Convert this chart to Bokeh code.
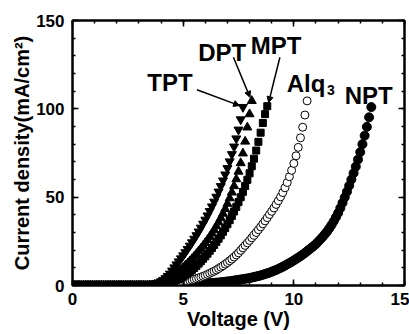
from bokeh.plotting import figure
from bokeh.models import LinearAxis, Range1d, FixedTicker, Label, Arrow, NormalHead
from bokeh.embed import file_html
from bokeh.resources import INLINE

# Voltage grid step (V); each current list starts at 0.0 V
V_STEP = 0.1

# Current density (mA/cm^2), one row per volt
tpt_j = [
    0, 0, 0, 0, 0, 0, 0, 0, 0, 0,
    0, 0, 0, 0, 0, 0, 0, 0, 0, 0,
    0, 0, 0, 0, 0, 0, 0, 0, 0, 0,
    0, 0, 0, 0, 0, 0.2, 0.4, 0.7, 1.1, 1.6,
    2.3, 3.1, 4.1, 5.3, 6.7, 8.4, 10.2, 11.9, 13.6, 15.3,
    17.0, 18.8, 20.6, 22.5, 24.4, 26.4, 28.4, 30.5, 32.7, 34.9,
    37.2, 39.6, 42.1, 44.7, 47.4, 50.2, 53.1, 56.2, 59.4, 62.8,
    66.4, 70.2, 74.3, 78.6, 83.2, 88.2, 94.0, 101.0,
]
dpt_j = [
    0, 0, 0, 0, 0, 0, 0, 0, 0, 0,
    0, 0, 0, 0, 0, 0, 0, 0, 0, 0,
    0, 0, 0, 0, 0, 0, 0, 0, 0, 0,
    0, 0, 0, 0, 0, 0.1, 0.2, 0.4, 0.6, 0.9,
    1.3, 1.8, 2.4, 3.1, 3.9, 4.8, 5.8, 6.8, 7.9, 9.0,
    10.1, 11.3, 12.5, 13.8, 15.1, 16.5, 17.9, 19.4, 20.9, 22.5,
    24.1, 25.8, 27.6, 29.5, 31.5, 33.6, 35.8, 38.2, 40.7, 43.4,
    46.3, 49.4, 52.7, 56.3, 60.2, 64.5, 69.3, 74.8, 81.5, 89.5,
    97.0, 104.5,
]
mpt_j = [
    0, 0, 0, 0, 0, 0, 0, 0, 0, 0,
    0, 0, 0, 0, 0, 0, 0, 0, 0, 0,
    0, 0, 0, 0, 0, 0, 0, 0, 0, 0,
    0, 0, 0, 0, 0, 0, 0, 0.1, 0.2, 0.3,
    0.5, 0.7, 1.0, 1.3, 1.7, 2.1, 2.6, 3.1, 3.7, 4.3,
    5.0, 5.8, 6.7, 7.7, 8.8, 9.9, 11.1, 12.4, 13.7, 15.1,
    16.5, 18.0, 19.6, 21.2, 22.9, 24.7, 26.5, 28.4, 30.4, 32.5,
    34.7, 37.0, 39.4, 41.9, 44.5, 47.2, 50.0, 53.0, 56.3, 59.8,
    63.5, 67.5, 71.8, 76.4, 81.3, 86.5, 92.0, 97.0, 101.5,
]
alq3_j = [
    0, 0, 0, 0, 0, 0, 0, 0, 0, 0,
    0, 0, 0, 0, 0, 0, 0, 0, 0, 0,
    0, 0, 0, 0, 0, 0, 0, 0, 0, 0,
    0, 0, 0, 0, 0, 0, 0, 0, 0, 0,
    0.2, 0.3, 0.4, 0.5, 0.6, 0.8, 1.0, 1.2, 1.4, 1.6,
    1.9, 2.2, 2.5, 2.8, 3.1, 3.5, 3.9, 4.3, 4.7, 5.2,
    5.7, 6.3, 6.9, 7.5, 8.1, 8.8, 9.6, 10.4, 11.2, 12.1,
    13.0, 14.0, 15.0, 16.1, 17.3, 18.5, 19.9, 21.3, 22.7, 24.1,
    25.5, 27.0, 28.5, 30.0, 31.6, 33.2, 34.9, 36.6, 38.4, 40.2,
    42.0, 43.9, 45.9, 48.0, 50.2, 52.6, 55.3, 58.3, 61.6, 65.2,
    69.1, 73.4, 78.2, 83.6, 89.6, 96.5, 104.5,
]
npt_j = [
    0, 0, 0, 0, 0, 0, 0, 0, 0, 0,
    0, 0, 0, 0, 0, 0, 0, 0, 0, 0,
    0, 0, 0, 0, 0, 0, 0, 0, 0, 0,
    0, 0, 0, 0, 0, 0, 0, 0, 0, 0,
    0, 0, 0, 0, 0, 0.1, 0.1, 0.1, 0.2, 0.2,
    0.3, 0.3, 0.4, 0.5, 0.5, 0.6, 0.7, 0.8, 0.9, 1.0,
    1.1, 1.2, 1.3, 1.4, 1.5, 1.6, 1.7, 1.8, 2.0, 2.1,
    2.3, 2.4, 2.6, 2.8, 3.0, 3.2, 3.4, 3.6, 3.8, 4.0,
    4.2, 4.5, 4.8, 5.1, 5.4, 5.7, 6.1, 6.5, 6.9, 7.3,
    7.8, 8.3, 8.8, 9.4, 10.0, 10.6, 11.3, 12.0, 12.7, 13.4,
    14.2, 15.0, 15.8, 16.6, 17.5, 18.4, 19.4, 20.4, 21.4, 22.4,
    23.5, 24.8, 26.1, 27.5, 29.0, 30.5, 32.3, 34.2, 36.3, 38.6,
    41.0, 43.8, 46.8, 49.9, 53.1, 56.5, 60.0, 63.6, 67.3, 71.3,
    75.5, 80.0, 84.8, 89.8, 95.2, 101.0,
]

x_ticks = [0, 5, 10, 15]
y_ticks = [0, 50, 100, 150]
x_minor = list(range(0, 16))
y_minor = list(range(0, 151, 10))
x_title = "Voltage (V)"
y_title = "Current density(mA/cm\u00b2)"


def volts(j):
    return [round(i * V_STEP, 1) for i in range(len(j))]


FONT = "Liberation Sans"

p = figure(width=409, height=334, output_backend="svg", toolbar_location=None,
           x_range=Range1d(0, 15), y_range=Range1d(0, 150),
           min_border_left=72, min_border_right=5, min_border_top=20,
           min_border_bottom=49)
p.grid.visible = False
p.background_fill_color = "white"
p.border_fill_color = "white"
p.outline_line_color = "black"
p.outline_line_width = 2


def style_ticks(ax):
    ax.axis_line_width = 2
    ax.major_tick_in = 6
    ax.major_tick_out = 0
    ax.minor_tick_in = 3
    ax.minor_tick_out = 0
    ax.major_tick_line_width = 1.5
    ax.minor_tick_line_width = 1.5


for ax in (p.xaxis[0], p.yaxis[0]):
    style_ticks(ax)
    ax.major_label_text_font = FONT
    ax.major_label_text_font_style = "bold"
    ax.major_label_text_font_size = "17px"
    ax.major_label_text_color = "black"
    ax.axis_label_text_font = FONT
    ax.axis_label_text_font_style = "bold"
    ax.axis_label_text_font_size = "20px"
    ax.axis_label_text_color = "black"
    ax.axis_label_standoff = 0

p.xaxis[0].ticker = FixedTicker(ticks=x_ticks, minor_ticks=x_minor)
p.yaxis[0].ticker = FixedTicker(ticks=y_ticks, minor_ticks=y_minor)
p.xaxis[0].axis_label = x_title
p.yaxis[0].axis_label = y_title
p.xaxis[0].major_label_standoff = 7
p.yaxis[0].major_label_standoff = 8

for loc, ticks, minors in (("above", x_ticks, x_minor), ("right", y_ticks, y_minor)):
    ax = LinearAxis(ticker=FixedTicker(ticks=ticks, minor_ticks=minors))
    style_ticks(ax)
    ax.major_label_overrides = {t: "" for t in ticks}
    ax.major_label_standoff = 0
    p.add_layout(ax, loc)

# series
p.scatter(volts(npt_j), npt_j, marker="circle", size=9, color="black")
p.scatter(volts(alq3_j), alq3_j, marker="circle", size=8, fill_color="white",
          line_color="black", line_width=1)
p.scatter(volts(mpt_j), mpt_j, marker="square", size=7, color="black")
p.scatter(volts(dpt_j), dpt_j, marker="triangle", size=9, color="black")
p.scatter(volts(tpt_j), tpt_j, marker="inverted_triangle", size=9, color="black")


def lab(x, y, t, size):
    p.add_layout(Label(x=x, y=y, text=t, text_font=FONT, text_font_style="bold",
                       text_font_size=size, text_color="black",
                       text_baseline="alphabetic", text_align="left"))


lab(3.38, 115.0, "TPT", "24px")
lab(5.68, 132.0, "DPT", "24px")
lab(8.05, 136.0, "MPT", "24px")
lab(9.68, 114.5, "Alq", "24px")
lab(11.50, 110.5, "3", "14px")
lab(12.30, 107.5, "NPT", "24px")

for (x0, y0, x1, y1) in ((5.62, 110.8, 7.55, 101.8),
                         (7.27, 129.2, 8.02, 106.5),
                         (9.37, 129.2, 8.86, 103.5)):
    p.add_layout(Arrow(x_start=x0, y_start=y0, x_end=x1, y_end=y1,
                       line_color="black", line_width=1.5,
                       end=NormalHead(size=6, fill_color="black", line_color="black")))

open("out.html", "w").write(file_html(p, INLINE))
